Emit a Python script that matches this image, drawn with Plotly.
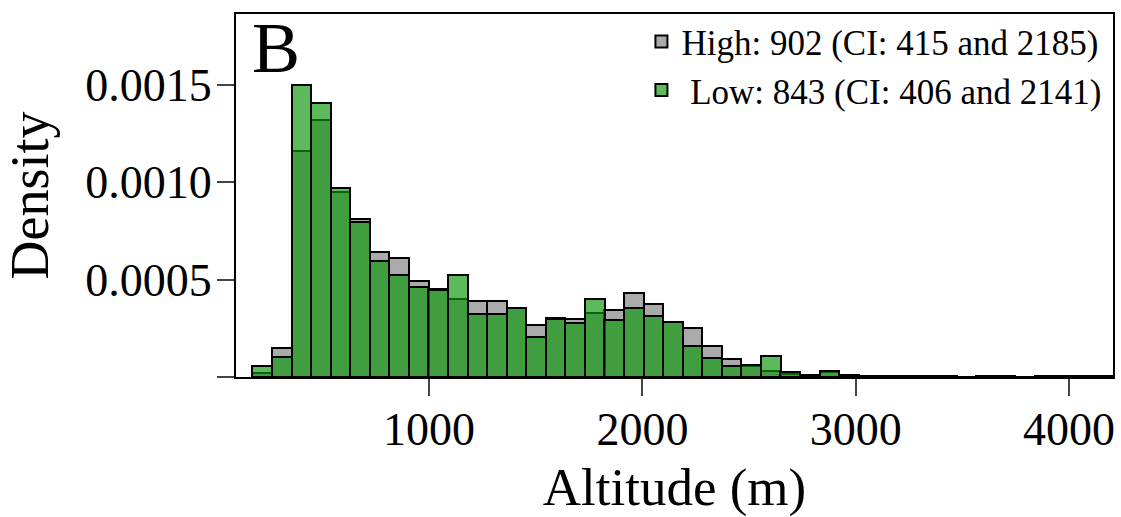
import plotly.graph_objects as go

# Histogram bin centers (m), common bin width
bin_centers = [218, 310, 402, 493, 585, 677, 768, 860, 952, 1043,
               1135, 1227, 1318, 1410, 1502, 1593, 1685, 1777, 1868, 1960,
               2052, 2143, 2235, 2327, 2418, 2510, 2602, 2693, 2785, 2877,
               2968, 3060, 3152, 3243, 3335, 3427, 3518, 3610, 3702, 3793,
               3885, 3977, 4068, 4160]
bin_width = 91.67

high_density = [0.00002, 0.00015, 0.00116, 0.00132, 0.00095, 0.00081, 0.000643, 0.00061, 0.000493, 0.00045,
                0.000403, 0.000389, 0.000389, 0.000357, 0.000266, 0.000302, 0.000298, 0.00033, 0.000343, 0.000434,
                0.000373, 0.000285, 0.00025, 0.000158, 0.00009, 0.000058, 0.00003, 0.000015, 0.00001, 0.000028,
                0.00001, 0.000006, 0.000005, 0.000006, 0.000005, 0.000005, 0.0, 0.000005, 0.000006, 0.0,
                0.000005, 0.000005, 0.000005, 0.000006]
low_density = [0.000055, 0.000104, 0.0015, 0.001406, 0.00097, 0.000797, 0.000595, 0.000523, 0.000463, 0.000447,
               0.000523, 0.000326, 0.000326, 0.000355, 0.000206, 0.0003, 0.00028, 0.000403, 0.000295, 0.000355,
               0.000312, 0.000283, 0.000158, 0.0001, 0.000055, 0.00006, 0.000106, 0.000026, 0.00001, 0.00003,
               0.000008, 0.000005, 0.000005, 0.000004, 0.000005, 0.000004, 0.0, 0.000004, 0.000005, 0.0,
               0.000004, 0.000005, 0.000004, 0.000005]

high_label = "High: 902 (CI: 415 and 2185)"
low_label = "\u00a0Low: 843 (CI: 406 and 2141)"

x_ticks = [1000, 2000, 3000, 4000]
y_ticks = [0, 0.0005, 0.0010, 0.0015]
y_ticktext = ["", "0.0005", "0.0010", "0.0015"]

FONT = "Liberation Serif, Times New Roman, serif"

fig = go.Figure()
fig.add_trace(go.Bar(
    x=bin_centers, y=high_density, width=bin_width, name=high_label,
    marker=dict(color="rgba(85,85,85,0.5)", line=dict(color="black", width=2)),
))
fig.add_trace(go.Bar(
    x=bin_centers, y=low_density, width=bin_width, name=low_label,
    marker=dict(color="rgba(12,150,12,0.67)", line=dict(color="black", width=2)),
))

fig.update_layout(
    width=1121, height=517,
    margin=dict(l=236, r=8, t=14, b=140, autoexpand=False),
    barmode="overlay", bargap=0,
    plot_bgcolor="white", paper_bgcolor="white",
    font=dict(family=FONT, color="black"),
    legend=dict(x=0.9925, xanchor="right", y=1.005, yanchor="top",
                font=dict(size=35, family=FONT), bgcolor="rgba(0,0,0,0)",
                traceorder="normal", tracegroupgap=0, itemsizing="constant"),
    showlegend=True,
)
fig.update_xaxes(
    range=[95, 4206], tickvals=x_ticks, ticks="outside", ticklen=17, tickwidth=2,
    ticklabelstandoff=-6,
    tickfont=dict(size=46, family=FONT), showline=True, linecolor="black", linewidth=2,
    mirror=True, showgrid=False, zeroline=False, automargin=False,
    title=dict(text="\u00a0\u00a0Altitude (m)", font=dict(size=53, family=FONT), standoff=28),
)
fig.update_yaxes(
    range=[0, 0.001865], tickvals=y_ticks, ticktext=y_ticktext, ticks="outside", ticklen=17, tickwidth=2,
    ticklabelstandoff=-4,
    tickfont=dict(size=46, family=FONT), showline=True, linecolor="black", linewidth=2,
    mirror=True, showgrid=False, zeroline=False, automargin=False,
    title=dict(text="\u00a0\u00a0Density", font=dict(size=54, family=FONT), standoff=22),
)
fig.add_annotation(text="B", x=0.016, y=0.906, xref="paper", yref="paper",
                   xanchor="left", yanchor="middle", showarrow=False,
                   font=dict(size=72, family=FONT, color="black"))

fig.write_html("out.html")
